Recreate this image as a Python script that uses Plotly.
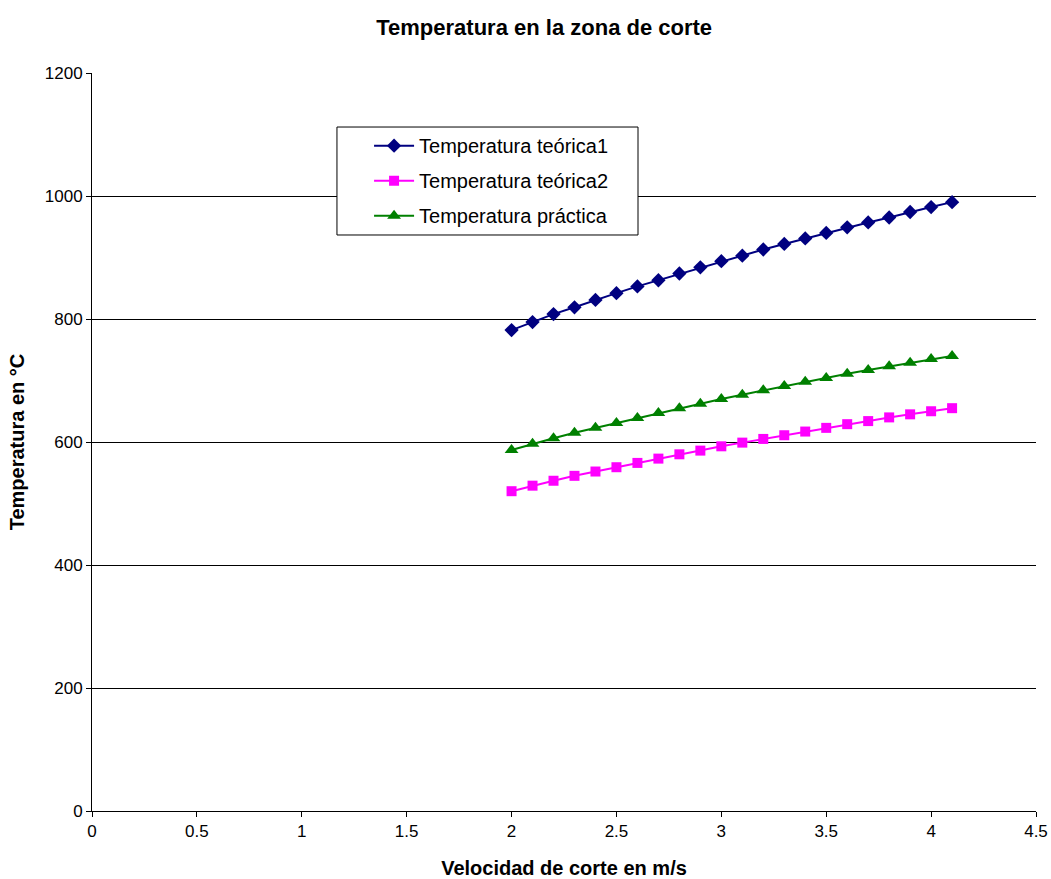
import plotly.graph_objects as go

velocidad = [2.0, 2.1, 2.2, 2.3, 2.4, 2.5, 2.6, 2.7, 2.8, 2.9, 3.0,
             3.1, 3.2, 3.3, 3.4, 3.5, 3.6, 3.7, 3.8, 3.9, 4.0, 4.1]
temp_teorica1 = [782, 795, 808, 819, 831, 842, 853, 863, 874, 884, 894,
                 903, 913, 922, 931, 940, 949, 957, 965, 974, 982, 990]
temp_teorica2 = [520, 529, 537, 545, 552, 559, 566, 573, 580, 586, 593,
                 599, 605, 611, 617, 623, 629, 634, 640, 645, 650, 655]
temp_practica = [587, 597, 606, 615, 623, 631, 639, 647, 655, 662, 670,
                 677, 684, 691, 698, 704, 711, 717, 723, 729, 735, 740]

x_ticks = [0, 0.5, 1, 1.5, 2, 2.5, 3, 3.5, 4, 4.5]
y_ticks = [0, 200, 400, 600, 800, 1000, 1200]

FONT = "Liberation Sans, Arial, sans-serif"

fig = go.Figure()
fig.add_trace(go.Scatter(x=velocidad, y=temp_teorica1, mode="lines+markers",
                         name="Temperatura teórica1", legendgroup="g1",
                         line=dict(color="#000080", width=2),
                         marker=dict(symbol="diamond", size=11, color="#000080")))
fig.add_trace(go.Scatter(x=velocidad, y=temp_teorica2, mode="lines+markers",
                         name="Temperatura teórica2", legendgroup="g2",
                         line=dict(color="#FF00FF", width=2),
                         marker=dict(symbol="square", size=10, color="#FF00FF")))
fig.add_trace(go.Scatter(x=velocidad, y=temp_practica, mode="lines+markers",
                         name="Temperatura práctica", legendgroup="g3",
                         line=dict(color="#008000", width=2),
                         marker=dict(symbol="triangle-up", size=12, color="#008000")))

fig.update_layout(
    width=1051, height=879,
    margin=dict(l=92, r=15, t=73, b=68),
    paper_bgcolor="white", plot_bgcolor="white",
    font=dict(family=FONT, color="black", size=18),
    title=dict(text="<b>Temperatura en la zona de corte</b>",
               x=0.479, xref="paper", xanchor="center",
               y=0.969, yref="container", yanchor="middle",
               font=dict(size=22, family=FONT)),
    xaxis=dict(range=[0, 4.5], tickvals=x_ticks, ticktext=[str(v) for v in x_ticks],
               showgrid=False, zeroline=False, showline=True, linecolor="black",
               linewidth=1, ticks="outside", ticklen=5, tickcolor="black",
               tickfont=dict(size=17), automargin=False,
               title=dict(text="<b>Velocidad de corte en m/s</b>",
                          font=dict(size=20), standoff=20)),
    yaxis=dict(range=[0, 1200], tickvals=y_ticks,
               showgrid=True, gridcolor="black", gridwidth=1,
               zeroline=False, showline=True, linecolor="black", linewidth=1,
               ticks="outside", ticklen=5, tickcolor="black",
               tickfont=dict(size=17), automargin=False,
               title=dict(text="<b>Temperatura en °C</b>",
                          font=dict(size=20), standoff=14)),
    legend=dict(x=0.2935, y=0.928, xanchor="left", yanchor="top",
                bgcolor="rgba(0,0,0,0)", borderwidth=0,
                tracegroupgap=6,
                font=dict(size=20, family=FONT), itemwidth=40),
    shapes=[dict(type="rect", xref="paper", yref="paper",
                 x0=0.2595, x1=0.5784, y0=0.7805, y1=0.9268,
                 line=dict(color="black", width=1), fillcolor="white",
                 layer="above")],
    showlegend=True,
)

fig.write_html("out.html")
